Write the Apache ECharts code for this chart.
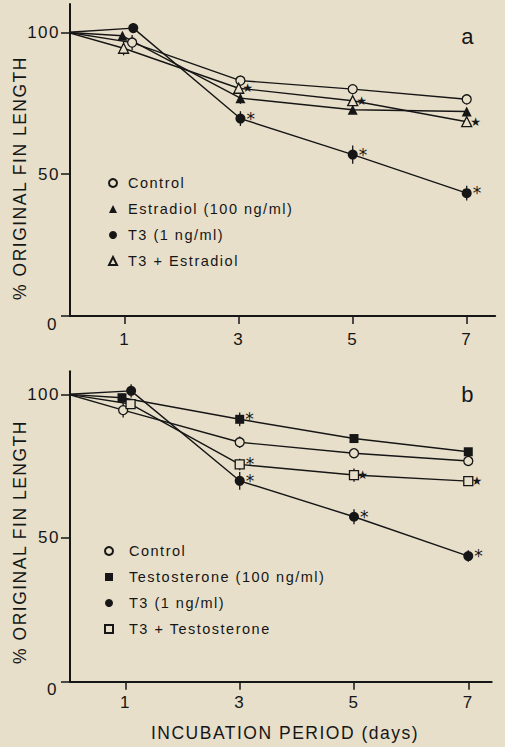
<!DOCTYPE html>
<html>
<head>
<meta charset="utf-8">
<script src="https://cdn.jsdelivr.net/npm/echarts@6/dist/echarts.min.js"></script>
<style>
  html, body { margin: 0; padding: 0; background: #e7dfca; }
  #chart { width: 505px; height: 747px; }
  #chart text { letter-spacing: 1.5px; }
</style>
</head>
<body>
<div id="chart"></div>
<script>
// ---------- DATA ----------
// Panel a
const ctrlA_x = [0, 1.13, 3.03, 5, 7];
const ctrlA_y = [100, 96.4, 83.0, 80.0, 76.4];
const ctrlA_e = [0, 2.7, 1.8, 1.8, 1.8];
const estrA_x = [0, 0.96, 3.03, 5, 7];
const estrA_y = [100, 98.8, 76.8, 72.7, 72.1];
const estrA_e = [0, 1.2, 2.0, 1.2, 1.2];
const t3A_x = [0, 1.15, 3.03, 5, 7];
const t3A_y = [100, 101.5, 69.6, 56.9, 43.3];
const t3A_e = [0, 1.8, 2.6, 3.2, 2.6];
const t3eA_x = [0, 0.98, 3, 5, 7];
const t3eA_y = [100, 94.4, 80.3, 75.9, 68.5];
const t3eA_e = [0, 2.5, 1.5, 1.2, 1.2];
const t3A_sig = ['', '', '*', '*', '*'];
const t3eA_sig = ['', '', '★', '★', '★'];
// Panel b
const ctrlB_x = [0, 0.96, 3, 5, 7];
const ctrlB_y = [100, 94.5, 83.3, 79.5, 76.8];
const ctrlB_e = [0, 2.6, 2.0, 1.5, 1.2];
const testB_x = [0, 0.94, 3, 5, 7];
const testB_y = [100, 98.8, 91.3, 84.6, 80.0];
const testB_e = [0, 1.5, 2.4, 1.5, 1.2];
const t3B_x = [0, 1.10, 3, 5, 7];
const t3B_y = [100, 101.2, 69.9, 57.4, 43.7];
const t3B_e = [0, 2.3, 3.1, 2.6, 2.0];
const t3tB_x = [0, 1.09, 3, 5, 7];
const t3tB_y = [100, 96.6, 75.6, 71.9, 69.8];
const t3tB_e = [0, 1.5, 2.0, 2.3, 1.2];
const testB_sig = ['', '', '*', '', ''];
const t3B_sig = ['', '', '*', '*', '*'];
const t3tB_sig = ['', '', '*', '★', '★'];

const xTicks = [1, 3, 5, 7];
const yTicks = [0, 50, 100];
const legendA = ['Control', 'Estradiol (100 ng/ml)', 'T3 (1 ng/ml)', 'T3 + Estradiol'];
const legendB = ['Control', 'Testosterone (100 ng/ml)', 'T3 (1 ng/ml)', 'T3 + Testosterone'];
const yTitle = '% ORIGINAL FIN LENGTH';
const xTitle = 'INCUBATION PERIOD (days)';

// ---------- STYLE ----------
const BG = '#e7dfca';
const INK = '#161616';
const FONT = 'Liberation Sans, Arial, sans-serif';

// vertical shift of a mark via asymmetric padding (box stays centred on the point)
function shiftPad(dy) {
  return dy < 0 ? [0, 0, -2 * dy, 0] : [2 * dy, 0, 0, 0];
}
function astLabel(dy) {
  return { show: true, formatter: '*', position: 'right', distance: 1, padding: shiftPad(dy),
    fontSize: 17, lineHeight: 10, color: INK, fontFamily: 'DejaVu Sans' };
}
function starLabel(dy) {
  return { show: true, formatter: '★', position: 'right', distance: -2, padding: shiftPad(dy),
    fontSize: 12, lineHeight: 10, color: INK, fontFamily: 'DejaVu Sans' };
}

function mk(xs, ys, sig, astDy, starDy) {
  return xs.map((x, i) => {
    const it = { value: [x, ys[i]] };
    if (i === 0) it.symbol = 'none';
    const s = sig ? sig[i] : '';
    if (s === '*') it.label = astLabel(astDy);
    else if (s === '★') it.label = starLabel(starDy);
    return it;
  });
}
function errData(xs, ys, es) {
  return xs.map((x, i) => [x, ys[i], es[i]]).filter(d => d[2] > 0);
}

function lineSeries(name, idx, xs, ys, sig, symbol, hollow, size, astDy, starDy) {
  return {
    type: 'line', name: name, xAxisIndex: idx, yAxisIndex: idx,
    data: mk(xs, ys, sig, astDy || 0, starDy || 0),
    symbol: symbol, symbolSize: size, showSymbol: true,
    lineStyle: { color: INK, width: 1.4 },
    itemStyle: hollow ? { color: BG, borderColor: INK, borderWidth: 1.3 } : { color: INK, borderColor: INK, borderWidth: 0 },
    label: { show: false },
    labelLayout: { hideOverlap: false },
    z: 3, silent: true, animation: false
  };
}
function errSeries(idx, xs, ys, es) {
  return {
    type: 'custom', xAxisIndex: idx, yAxisIndex: idx,
    data: errData(xs, ys, es),
    encode: { x: 0, y: 1 },
    renderItem: function (params, api) {
      const x = api.value(0), y = api.value(1), e = api.value(2);
      const p1 = api.coord([x, y - e]);
      const p2 = api.coord([x, y + e]);
      return { type: 'line', shape: { x1: p1[0], y1: p1[1], x2: p2[0], y2: p2[1] },
        style: { stroke: INK, lineWidth: 1.3 } };
    },
    z: 2, silent: true, animation: false
  };
}

function xAxisCfg(idx, min, max, margin) {
  return {
    type: 'value', gridIndex: idx, min: min, max: max,
    splitLine: { show: false },
    axisLine: { show: true, onZero: false, lineStyle: { color: INK, width: 2 } },
    axisTick: { show: true, customValues: xTicks, length: 8, lineStyle: { color: INK, width: 1.5 } },
    axisLabel: { show: true, customValues: xTicks, margin: margin, fontSize: 17, color: INK, fontFamily: FONT }
  };
}
function yAxisCfg(idx, max) {
  return {
    type: 'value', gridIndex: idx, min: 0, max: max,
    splitLine: { show: false },
    axisLine: { show: true, onZero: false, lineStyle: { color: INK, width: 2 } },
    axisTick: { show: true, customValues: yTicks, length: 9, lineStyle: { color: INK, width: 1.5 } },
    axisLabel: {
      show: true, customValues: yTicks, margin: 10, fontSize: 17, color: INK, fontFamily: FONT,
      formatter: v => v === 0 ? '{z|0}' : String(v),
      rich: { z: { fontSize: 17, color: INK, fontFamily: FONT, padding: [16, 2, 0, 0] } }
    }
  };
}

const chart = echarts.init(document.getElementById('chart'), null, { renderer: 'svg' });
const option = {
  backgroundColor: BG,
  animation: false,
  textStyle: { fontFamily: FONT },
  grid: [
    { left: 70, width: 425.2, top: 4, height: 312, outerBoundsMode: 'none' },
    { left: 70, width: 421.7, top: 371.3, height: 310.4, outerBoundsMode: 'none' }
  ],
  xAxis: [xAxisCfg(0, 0.04, 7.5, 15), xAxisCfg(1, 0.03, 7.41, 12)],
  yAxis: [yAxisCfg(0, 110), yAxisCfg(1, 108)],
  legend: [
    {
      data: legendA.map((n, i) => ({ name: n, icon: ['circle', 'triangle', 'circle', 'triangle'][i] })),
      orient: 'vertical', left: 103, top: 170, itemWidth: 8, itemHeight: 8, itemGap: 10,
      selectedMode: false,
      textStyle: { fontSize: 14.5, lineHeight: 16, color: INK, fontFamily: FONT, padding: [0, 0, 0, 6] }
    },
    {
      data: legendB.map((n, i) => ({ name: n, icon: ['circle', 'rect', 'circle', 'rect'][i] })),
      orient: 'vertical', left: 99, top: 538, itemWidth: 8, itemHeight: 8, itemGap: 10,
      selectedMode: false,
      textStyle: { fontSize: 14.5, lineHeight: 16, color: INK, fontFamily: FONT, padding: [0, 0, 0, 11] }
    }
  ],
  graphic: [
    { type: 'text', x: 20, y: 178, rotation: Math.PI / 2,
      style: { text: yTitle, fontSize: 17.5, fill: INK, fontFamily: FONT, align: 'center', verticalAlign: 'middle' } },
    { type: 'text', x: 20, y: 542, rotation: Math.PI / 2,
      style: { text: yTitle, fontSize: 17.5, fill: INK, fontFamily: FONT, align: 'center', verticalAlign: 'middle' } },
    { type: 'text', x: 285, y: 733,
      style: { text: xTitle, fontSize: 17.5, fill: INK, fontFamily: FONT, align: 'center', verticalAlign: 'middle' } },
    { type: 'text', x: 468, y: 36,
      style: { text: 'a', fontSize: 22, fill: INK, fontFamily: FONT, align: 'center', verticalAlign: 'middle' } },
    { type: 'text', x: 468, y: 394,
      style: { text: 'b', fontSize: 22, fill: INK, fontFamily: FONT, align: 'center', verticalAlign: 'middle' } }
  ],
  series: [
    errSeries(0, ctrlA_x, ctrlA_y, ctrlA_e),
    errSeries(0, estrA_x, estrA_y, estrA_e),
    errSeries(0, t3A_x, t3A_y, t3A_e),
    errSeries(0, t3eA_x, t3eA_y, t3eA_e),
    lineSeries(legendA[0], 0, ctrlA_x, ctrlA_y, null, 'circle', true, 9),
    lineSeries(legendA[1], 0, estrA_x, estrA_y, null, 'triangle', false, 10),
    lineSeries(legendA[2], 0, t3A_x, t3A_y, t3A_sig, 'circle', false, 10, 1.4, 0),
    lineSeries(legendA[3], 0, t3eA_x, t3eA_y, t3eA_sig, 'triangle', true, 10, 0, -2.5),
    errSeries(1, ctrlB_x, ctrlB_y, ctrlB_e),
    errSeries(1, testB_x, testB_y, testB_e),
    errSeries(1, t3B_x, t3B_y, t3B_e),
    errSeries(1, t3tB_x, t3tB_y, t3tB_e),
    lineSeries(legendB[0], 1, ctrlB_x, ctrlB_y, null, 'circle', true, 9),
    lineSeries(legendB[1], 1, testB_x, testB_y, testB_sig, 'rect', false, 9, -3.4, 0),
    lineSeries(legendB[2], 1, t3B_x, t3B_y, t3B_sig, 'circle', false, 10, 2.25, 0),
    lineSeries(legendB[3], 1, t3tB_x, t3tB_y, t3tB_sig, 'rect', true, 9, -3.75, -5.5)
  ]
};
chart.setOption(option);
</script>
</body>
</html>
